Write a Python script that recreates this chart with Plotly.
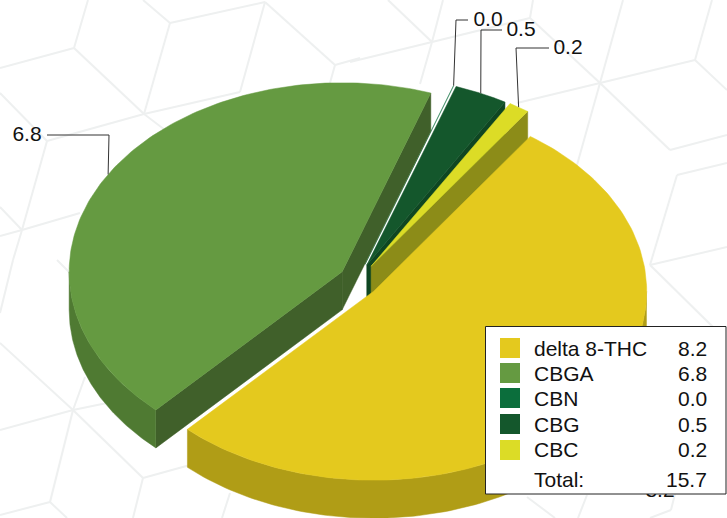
import numpy as np
import plotly.graph_objects as go

# ---- data ----
categories = ["delta 8-THC", "CBGA", "CBN", "CBG", "CBC"]
values = [8.2, 6.8, 0.0, 0.5, 0.2]
value_labels = ["8.2", "6.8", "0.0", "0.5", "0.2"]
total_label = "15.7"

# ---- style ----
W, H = 727, 518
top_colors = ["#E4C91E", "#659A41", "#0B6E3C", "#14572C", "#DCDC26"]
outer_colors = ["#B09D16", "#4F7A32", "#0A5A30", "#0F4622", "#A5A51C"]
inner_colors = ["#8F8016", "#40602A", "#08502B", "#0F4622", "#8C8C18"]
FONT = "Liberation Sans, Arial, sans-serif"
FS = 21
TXT = "#111111"
CX, CY, RX, RY, DEPTH = 358.7, 280.5, 273, 189, 38
EX, EY = 19.3, 17.0
START = 55.0
# extra hand-nudges of the explode offset, per slice
NUDGE = [(0, 0), (0, 0), (0, 0), (0, 0), (2, 0)]
# label elbow: (elbow x, elbow y, end x of horizontal run, text x)
LABEL_ROUTE = [
    (None, 491, 640, 660),
    (109, 135, 47, 27),
    (456, 20, 468, 488),
    (481, 30, 502, 521),
    (516, 48, 549, 568),
]
HEX = [
    ((74,48),(0,68)), ((74,48),(88,0)), ((74,48),(144,114)), ((144,114),(47,141)), ((47,141),(0,93)),
    ((47,141),(22,230)), ((22,230),(0,236)), ((22,230),(0,207)), ((22,230),(13,260)), ((22,230),(80,213)),
    ((144,114),(170,23)), ((170,23),(143,0)), ((170,23),(265,2)), ((265,2),(335,65)), ((265,2),(240,92)),
    ((144,114),(240,92)), ((144,114),(165,130)), ((335,65),(360,58)), ((335,65),(328,90)),
    ((432,42),(350,62)), ((432,42),(388,0)), ((432,42),(443,0)), ((432,42),(420,84)), ((432,42),(530,18)),
    ((530,18),(533,0)), ((530,18),(600,83)), ((600,83),(623,0)), ((600,83),(517,103)), ((600,83),(670,150)),
    ((600,83),(577,165)), ((600,83),(695,60)), ((695,60),(712,0)), ((695,60),(727,90)), ((670,150),(727,135)),
    ((677,175),(727,163)), ((677,175),(650,265)), ((650,265),(727,247)), ((650,265),(713,327)),
    ((73,410),(0,430)), ((73,410),(107,403)), ((73,410),(0,343)), ((73,410),(85,377)), ((73,410),(143,478)),
    ((143,478),(190,465)), ((143,478),(133,518)), ((73,410),(50,502)), ((50,502),(0,515)), ((50,502),(67,518)),
    ((13,260),(0,313)), ((57,260),(70,273)), ((230,493),(222,518)),
    ((527,497),(555,518)), ((587,495),(578,518)), ((675,494),(671,510)), ((671,510),(650,518)),
]
LEG = dict(x0=485.5, y0=326.5, x1=726, y1=494)
SWATCH_Y = [338, 363, 388, 414, 440]
ROW_Y = [348, 373, 398, 424, 449]
TOTAL_Y = 479

# ---- geometry from values ----
sweeps = [v / sum(values) * 360 for v in values]
starts = START - np.concatenate([[0], np.cumsum(sweeps)[:-1]])
ends = starts - np.array(sweeps)
mids = (starts + ends) / 2


def apex(i):
    m = np.radians(mids[i])
    return (CX + EX * np.cos(m) + NUDGE[i][0], CY - EY * np.sin(m) + NUDGE[i][1])


def rim(i, deg):
    a = np.radians(deg)
    ax, ay = apex(i)
    return ax + RX * np.cos(a), ay - RY * np.sin(a)


def poly(xs, ys, color, name):
    return go.Scatter(x=list(xs), y=list(ys), mode="lines", fill="toself", fillcolor=color,
                      line=dict(width=0.5, color=color), hoverinfo="skip", showlegend=False, name=name)


def top_trace(i):
    d = np.linspace(starts[i], ends[i], 160)
    x, y = rim(i, d)
    ax, ay = apex(i)
    return poly([ax, *x, ax], [ay, *y, ay], top_colors[i], categories[i])


def outer_wall(i):
    lo, hi = max(ends[i], -180), min(starts[i], 0)
    d = np.linspace(hi, lo, 120)
    x, y = rim(i, d)
    return poly([*x, *x[::-1]], [*y, *(y[::-1] + DEPTH)], outer_colors[i], categories[i])


def inner_wall(i, deg):
    ax, ay = apex(i)
    tx, ty = rim(i, deg)
    return poly([ax, tx, tx, ax, ax], [ay, ty, ty + DEPTH, ay + DEPTH, ay], inner_colors[i], categories[i])


fig = go.Figure()
fig.add_trace(top_trace(2))
for i in [3, 4]:
    fig.add_trace(inner_wall(i, ends[i]))
    fig.add_trace(top_trace(i))
fig.add_trace(inner_wall(1, starts[1]))
fig.add_trace(inner_wall(1, ends[1]))
fig.add_trace(outer_wall(1))
fig.add_trace(top_trace(1))
fig.add_trace(outer_wall(0))
fig.add_trace(top_trace(0))

# labels and leaders
for i, (ex, ey, hx, tx) in enumerate(LABEL_ROUTE):
    ax, ay = rim(i, mids[i])
    if ex is None:
        ex = ax
    fig.add_trace(go.Scatter(x=[ax, ex, hx], y=[ay, ey, ey], mode="lines",
                             line=dict(color="#333333", width=1), hoverinfo="skip", showlegend=False))
    fig.add_trace(go.Scatter(x=[tx], y=[ey + 1], mode="text", text=[value_labels[i]],
                             textposition="middle center", textfont=dict(family=FONT, size=FS, color=TXT),
                             hoverinfo="skip", showlegend=False))

# legend box sits above the labels (it hides most of the 8.2 label)
fig.add_trace(go.Scatter(x=[LEG["x0"], LEG["x1"], LEG["x1"], LEG["x0"], LEG["x0"]],
                         y=[LEG["y0"], LEG["y0"], LEG["y1"], LEG["y1"], LEG["y0"]],
                         mode="lines", fill="toself", fillcolor="#FFFFFF",
                         line=dict(color="#222222", width=1), hoverinfo="skip", showlegend=False))

shapes = [dict(type="line", x0=a[0], y0=a[1], x1=b[0], y1=b[1], layer="below",
               line=dict(color="#EEF0F0", width=2)) for a, b in HEX]
for i, y in enumerate(SWATCH_Y):
    shapes.append(dict(type="rect", x0=500, x1=520, y0=y, y1=y + 20, layer="above",
                       fillcolor=top_colors[i], line=dict(width=0)))

ann = []
def note(text, x, y, anchor):
    ann.append(dict(text=text, x=x, y=y, xref="x", yref="y", showarrow=False, xanchor=anchor, yanchor="middle",
                    font=dict(family=FONT, size=FS, color=TXT)))
for i, y in enumerate(ROW_Y):
    note(categories[i], 531.5, y, "left")
    note(value_labels[i], 709, y, "right")
note("Total:", 531.5, TOTAL_Y, "left")
note(total_label, 709, TOTAL_Y, "right")

fig.update_layout(
    width=W, height=H, margin=dict(l=0, r=0, t=0, b=0), showlegend=False,
    paper_bgcolor="#FFFFFF", plot_bgcolor="#FFFFFF", shapes=shapes, annotations=ann,
    xaxis=dict(range=[0, W], visible=False, fixedrange=True),
    yaxis=dict(range=[H, 0], visible=False, fixedrange=True),
)
fig.write_html("out.html", config=dict(displayModeBar=False),
               post_script="document.body.style.margin='0';document.body.style.overflow='hidden';")
